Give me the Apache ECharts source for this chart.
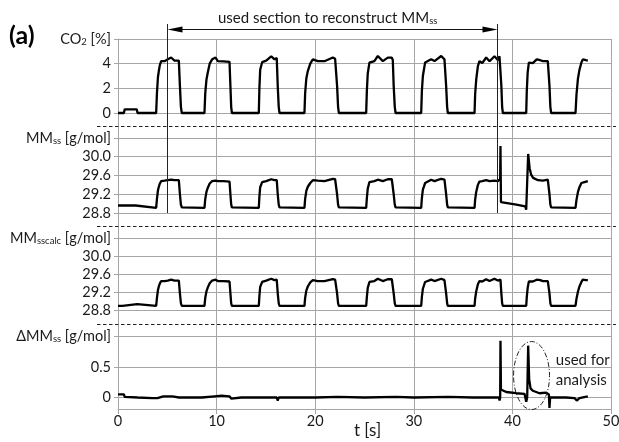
<!DOCTYPE html>
<html><head><meta charset="utf-8">
<script src="https://cdn.jsdelivr.net/npm/echarts@6/dist/echarts.min.js"></script>
<style>html,body{margin:0;padding:0;background:#fff}#c{width:619px;height:442px}</style>
</head><body><div id="c"></div>
<script>
// ---------------- DATA ----------------
const tTicks = [0, 10, 20, 30, 40, 50];
const co2Ticks = [0, 2, 4];
const mmTicks = [28.8, 29.2, 29.6, 30.0];
const dTicks = [0, 0.5];
const usedSection = [5.0, 38.4];          // t [s] of the used section bracket
const analysisMark = [41.94, 0.36];       // centre of the dash-dot ellipse (t, dMM)

// CO2 [%] vs t [s]
const co2 = [
 [0,0],[0.6,0],[0.68,0.3],[1.9,0.3],[1.98,0],
 [3.87,0],[3.95,1.6],[4.05,2.9],[4.14,3.4],[4.25,3.9],[4.38,4.2],[4.72,4.2],[5.05,4.35],[5.39,4.5],[5.73,4.25],[6.17,4.25],[6.28,2.2],[6.38,0.5],[6.47,0],
 [8.77,0],[8.85,1.6],[8.97,2.7],[9.11,3.3],[9.3,4.0],[9.55,4.35],[9.89,4.5],[10.12,4.2],[10.7,4.18],[11.31,4.15],[11.4,2.2],[11.48,0.5],[11.55,0],
 [14.28,0],[14.34,2.0],[14.42,3.5],[14.62,4.12],[15.03,4.25],[15.54,4.6],[15.87,4.35],[16.1,4.45],[16.2,2.2],[16.3,0.5],[16.38,0],
 [18.91,0],[18.98,1.6],[19.1,2.8],[19.25,3.4],[19.5,4.0],[19.76,4.35],[20.26,4.2],[20.94,4.2],[21.79,4.5],[22.02,4.4],[22.13,4.35],[22.22,2.2],[22.32,0.5],[22.4,0],
 [25.17,0],[25.24,1.8],[25.33,3.2],[25.5,4.08],[26.0,4.21],[26.35,4.62],[26.86,4.21],[27.36,4.49],[27.77,4.49],[27.87,4.3],[27.96,2.2],[28.07,0.5],[28.15,0],
 [30.75,0],[30.82,1.8],[30.92,3.0],[31.15,4.1],[31.76,4.35],[32.1,4.21],[32.78,4.62],[33.11,4.35],[33.2,4.35],[33.28,2.2],[33.38,0.5],[33.45,0],
 [36.16,0],[36.22,1.5],[36.33,2.7],[36.5,3.8],[36.66,4.21],[36.94,4.05],[37.34,4.5],[37.68,4.2],[38.18,4.6],[38.52,4.3],[38.69,4.6],[38.79,4.5],[38.88,2.2],[38.96,0.5],[39.03,0],
 [41.4,0],[41.46,1.8],[41.55,3.3],[41.67,4.08],[42.07,4.05],[42.47,4.35],[42.82,4.28],[43.09,4.2],[43.59,4.2],[43.66,4.15],[43.76,2.2],[43.85,0.5],[43.93,0],
 [46.4,0],[46.5,1.5],[46.65,2.8],[46.8,3.5],[47.0,4.1],[47.14,4.35],[47.31,4.2],[47.45,4.28],[47.65,4.25]
];

// MM_ss [g/mol]
const mmSs = [
 [0,28.96],[1.8,28.96],[1.88,28.92],[3.87,28.91],
 [3.95,29.1],[4.05,29.28],[4.14,29.36],[4.25,29.43],[4.38,29.48],[4.72,29.49],[5.05,29.5],[5.39,29.51],[5.73,29.5],[6.17,29.5],[6.28,29.2],[6.38,28.98],[6.47,28.92],
 [8.77,28.91],[8.85,29.1],[8.97,29.25],[9.11,29.34],[9.3,29.43],[9.55,29.48],[9.89,29.49],[10.12,29.48],[10.7,29.48],[11.31,29.47],[11.4,29.2],[11.48,28.98],[11.55,28.92],
 [14.28,28.91],[14.34,29.15],[14.42,29.35],[14.62,29.46],[15.03,29.48],[15.54,29.52],[15.87,29.5],[16.1,29.5],[16.2,29.2],[16.3,28.98],[16.38,28.92],
 [18.91,28.91],[18.98,29.1],[19.1,29.27],[19.25,29.36],[19.5,29.44],[19.76,29.5],[20.26,29.49],[20.94,29.48],[21.79,29.53],[22.02,29.52],[22.13,29.5],[22.22,29.2],[22.32,28.98],[22.4,28.92],
 [25.17,28.91],[25.24,29.12],[25.33,29.32],[25.5,29.46],[26.0,29.48],[26.35,29.51],[26.86,29.48],[27.36,29.52],[27.77,29.52],[27.87,29.5],[27.96,29.2],[28.07,28.98],[28.15,28.92],
 [30.75,28.91],[30.82,29.12],[30.92,29.3],[31.15,29.44],[31.76,29.51],[32.1,29.48],[32.78,29.53],[33.11,29.51],[33.2,29.5],[33.28,29.2],[33.38,28.98],[33.45,28.92],
 [36.16,28.91],[36.22,29.08],[36.33,29.25],[36.5,29.4],[36.66,29.47],[36.94,29.48],[37.34,29.5],[37.68,29.48],[38.18,29.49],[38.52,29.48],[38.69,29.5],[38.76,29.52],[38.79,30.23],[38.84,29.03],[39.0,29.03],[40.4,28.98],[41.3,28.94],[41.4,28.87],[41.5,28.9],[41.6,30.06],[41.75,29.75],[41.9,29.62],[42.1,29.55],[42.25,29.52],[42.6,29.5],[43.1,29.49],[43.59,29.51],[43.66,29.49],[43.76,29.2],[43.85,28.98],[43.93,28.92],
 [46.4,28.91],[46.5,29.08],[46.65,29.25],[46.8,29.35],[47.0,29.44],[47.14,29.47],[47.31,29.46],[47.45,29.49],[47.65,29.48]
];

// MM_sscalc [g/mol]
const mmCalc = [
 [0,28.9],[0.45,28.9],[0.52,28.94],[1.95,28.94],[2.02,28.9],[3.87,28.9],
 [3.95,29.08],[4.05,29.25],[4.14,29.33],[4.25,29.4],[4.38,29.45],[4.72,29.45],[5.05,29.46],[5.39,29.48],[5.73,29.46],[6.17,29.46],[6.28,29.18],[6.38,28.96],[6.47,28.9],
 [8.77,28.9],[8.85,29.08],[8.97,29.22],[9.11,29.31],[9.3,29.4],[9.55,29.46],[9.89,29.48],[10.12,29.45],[10.7,29.45],[11.31,29.44],[11.4,29.18],[11.48,28.96],[11.55,28.9],
 [14.28,28.9],[14.34,29.12],[14.42,29.32],[14.62,29.43],[15.03,29.46],[15.54,29.5],[15.87,29.47],[16.1,29.48],[16.2,29.18],[16.3,28.96],[16.38,28.9],
 [18.91,28.9],[18.98,29.08],[19.1,29.24],[19.25,29.33],[19.5,29.42],[19.76,29.47],[20.26,29.45],[20.94,29.45],[21.79,29.49],[22.02,29.48],[22.13,29.47],[22.22,29.18],[22.32,28.96],[22.4,28.9],
 [25.17,28.9],[25.24,29.1],[25.33,29.3],[25.5,29.43],[26.0,29.45],[26.35,29.5],[26.86,29.45],[27.36,29.49],[27.77,29.49],[27.87,29.47],[27.96,29.18],[28.07,28.96],[28.15,28.9],
 [30.75,28.9],[30.82,29.1],[30.92,29.28],[31.15,29.43],[31.76,29.48],[32.1,29.45],[32.78,29.5],[33.11,29.47],[33.2,29.47],[33.28,29.18],[33.38,28.96],[33.45,28.9],
 [36.16,28.9],[36.22,29.06],[36.33,29.22],[36.5,29.38],[36.66,29.45],[36.94,29.44],[37.34,29.49],[37.68,29.45],[38.18,29.5],[38.52,29.46],[38.69,29.5],[38.79,29.48],[38.88,29.18],[38.96,28.96],[39.03,28.9],
 [41.4,28.9],[41.46,29.1],[41.55,29.3],[41.67,29.44],[42.07,29.44],[42.47,29.48],[42.82,29.47],[43.09,29.45],[43.59,29.45],[43.66,29.44],[43.76,29.18],[43.85,28.96],[43.93,28.9],
 [46.4,28.9],[46.5,29.06],[46.65,29.22],[46.8,29.33],[47.0,29.43],[47.14,29.48],[47.31,29.45],[47.45,29.47],[47.65,29.47]
];

// Delta MM_ss [g/mol]
const dMm = [
 [0,0.05],[0.6,0.05],[0.68,0.01],[2.0,0.0],[3.5,-0.01],[4.0,-0.01],[4.6,0.02],[5.5,0.02],[6.2,0.0],[8.5,0.0],[9.8,0.02],[10.5,0.03],[11.3,0.02],[11.5,-0.02],[12.5,0.0],[15.0,0.0],[16.1,0.0],[16.2,-0.05],[16.3,0.0],[20.0,0.0],[22.3,0.01],[25.0,0.0],[28.2,0.01],[30.0,0.0],[33.5,0.01],[36.0,0.0],
 [38.62,0.0],[38.7,-0.05],[38.76,0.0],[38.79,0.93],[38.84,0.13],[38.96,0.11],[39.37,0.09],[40.38,0.07],[41.23,0.06],[41.4,-0.07],[41.5,0.0],[41.6,0.85],[41.7,0.3],[41.84,0.15],[42.07,0.11],[42.75,0.07],[43.43,0.08],[43.59,0.06],[43.7,0.05],[43.76,-0.17],[43.83,0.0],[45.45,0.0],[46.3,-0.01],[46.53,-0.05],[46.8,-0.01],[47.65,0.02]
];

// ---------------- CHART ----------------
const FONT = 'Lato';
const GRID_C = '#a6a6a6';
const TXT = '#1a1a1a';
const FS = 14.5;
const rich = {
  n: {fontSize: FS, fontFamily: FONT, color: TXT},
  s: {fontSize: 9.5, fontFamily: FONT, color: TXT, verticalAlign: 'bottom', lineHeight: 8}
};

const panels = [
  {top: 39, height: 74, ticks: co2Ticks, top_v: 6, name: '{n|CO}{s|2}{n| [%]}', dec: 0, data: co2},
  {top: 138, height: 75, ticks: mmTicks, top_v: 30.4, name: '{n|MM}{s|ss}{n| [g/mol]}', dec: 1, data: mmSs},
  {top: 238, height: 72.5, ticks: mmTicks, top_v: 30.4, name: '{n|MM}{s|sscalc}{n| [g/mol]}', dec: 1, data: mmCalc},
  {top: 336.5, height: 61, ticks: dTicks, top_v: 1.0, name: '{n|ΔMM}{s|ss}{n| [g/mol]}', dec: -1, data: dMm}
];

const gridBase = {left: 118, right: 8, containLabel: false, outerBoundsMode: 'none'};
const grids = [Object.assign({}, gridBase, {top: 39, bottom: 33})];
const xAxes = [{
  gridIndex: 0, type: 'value', min: tTicks[0], max: tTicks[tTicks.length - 1], interval: tTicks[1] - tTicks[0],
  axisLine: {show: true, lineStyle: {color: GRID_C, width: 1}},
  axisTick: {show: true, length: 5, lineStyle: {color: GRID_C}},
  splitLine: {show: true, lineStyle: {color: GRID_C, width: 1}},
  axisLabel: {fontSize: FS, fontFamily: FONT, color: TXT, margin: 5},
  name: 't [s]', nameLocation: 'middle', nameGap: 13, nameMoveOverlap: false,
  nameTextStyle: {fontSize: 17, fontFamily: FONT, color: TXT, padding: [0, 0, 0, 6]}
}];
const yAxes = [{
  gridIndex: 0, type: 'value', min: 0, max: 1,
  axisLine: {show: true, lineStyle: {color: GRID_C, width: 1}},
  axisTick: {show: false}, axisLabel: {show: false}, splitLine: {show: false}
}];
const series = [];
panels.forEach((p, i) => {
  const gi = i + 1;
  const mn = p.ticks[0];
  const iv = +(p.ticks[1] - p.ticks[0]).toFixed(6);
  grids.push(Object.assign({}, gridBase, {top: p.top, height: p.height}));
  xAxes.push({gridIndex: gi, type: 'value', min: 0, max: 50, show: false});
  yAxes.push({
    gridIndex: gi, type: 'value', min: mn, max: p.top_v, interval: iv,
    axisLine: {show: false},
    axisTick: {show: true, length: 4, lineStyle: {color: GRID_C}},
    splitLine: {show: true, lineStyle: {color: GRID_C, width: 1}},
    axisLabel: {
      margin: 7, fontSize: FS, fontFamily: FONT, color: TXT, rich: rich,
      formatter: v => {
        if (Math.abs(v - p.top_v) < 1e-6) return p.name;
        return '{n|' + (p.dec >= 0 ? v.toFixed(p.dec) : String(+v.toFixed(3))) + '}';
      }
    }
  });
  series.push({
    type: 'line', xAxisIndex: gi, yAxisIndex: gi, data: p.data,
    showSymbol: false, symbol: 'none', clip: false, animation: false,
    lineStyle: {color: '#000', width: 2.3}
  });
});

const chart = echarts.init(document.getElementById('c'));
chart.setOption({
  animation: false,
  backgroundColor: '#fff',
  grid: grids, xAxis: xAxes, yAxis: yAxes, series: series
});

// ---------- annotations placed through the axes ----------
const X = t => chart.convertToPixel({xAxisIndex: 0}, t);
const Y = (i, v) => chart.convertToPixel({yAxisIndex: i}, v);
const crisp = v => Math.round(v) + 0.5;

const seps = [
  (Y(1, 0) + Y(2, 30.4)) / 2,
  (Y(2, 28.8) + Y(3, 30.4)) / 2,
  (Y(3, 28.8) + Y(4, 1.0)) / 2
].map(crisp);

const xs1 = crisp(X(usedSection[0]));
const xs2 = crisp(X(usedSection[1]));
const yBot = Y(2, 28.8);
const ya = 29.5;

const g = [];
seps.forEach(s => g.push({type: 'line', z: 100, shape: {x1: 97, y1: s, x2: 616, y2: s},
  style: {stroke: '#222', lineWidth: 1, lineDash: [3.5, 2.5]}}));
[xs1, xs2].forEach(x => g.push({type: 'line', z: 100, shape: {x1: x, y1: 24, x2: x, y2: yBot},
  style: {stroke: '#222', lineWidth: 1}}));
g.push({type: 'line', z: 100, shape: {x1: xs1 + 10, y1: ya, x2: xs2 - 10, y2: ya}, style: {stroke: '#111', lineWidth: 1}});
g.push({type: 'polygon', z: 100, shape: {points: [[xs1, ya], [xs1 + 15, ya - 3], [xs1 + 15, ya + 3]]}, style: {fill: '#000'}});
g.push({type: 'polygon', z: 100, shape: {points: [[xs2, ya], [xs2 - 15, ya - 3], [xs2 - 15, ya + 3]]}, style: {fill: '#000'}});
g.push({type: 'text', z: 100, x: 218, y: 18, style: {
  text: '{t|used section to reconstruct MM}{u|ss}', verticalAlign: 'middle',
  rich: {t: {fontSize: 15, fontFamily: FONT, fill: TXT}, u: {fontSize: 9.5, fontFamily: FONT, fill: TXT, verticalAlign: 'bottom', lineHeight: 8}}
}});
g.push({type: 'text', z: 100, x: 9, y: 36, style: {text: '(a)', fontSize: 25, fontWeight: 'bold', fontFamily: FONT, fill: '#000', verticalAlign: 'middle'}});
g.push({type: 'ellipse', z: 100, shape: {cx: X(analysisMark[0]), cy: Y(4, analysisMark[1]), rx: 18, ry: 34},
  style: {fill: 'none', stroke: '#222', lineWidth: 1, lineDash: [5, 2, 1, 2]}});
g.push({type: 'text', z: 100, x: X(44.4), y: Y(4, 0.78), style: {
  text: 'used for\nanalysis', fontSize: 15, fontFamily: FONT, fill: TXT, lineHeight: 20, verticalAlign: 'top'}});

chart.setOption({graphic: g});
</script></body></html>
